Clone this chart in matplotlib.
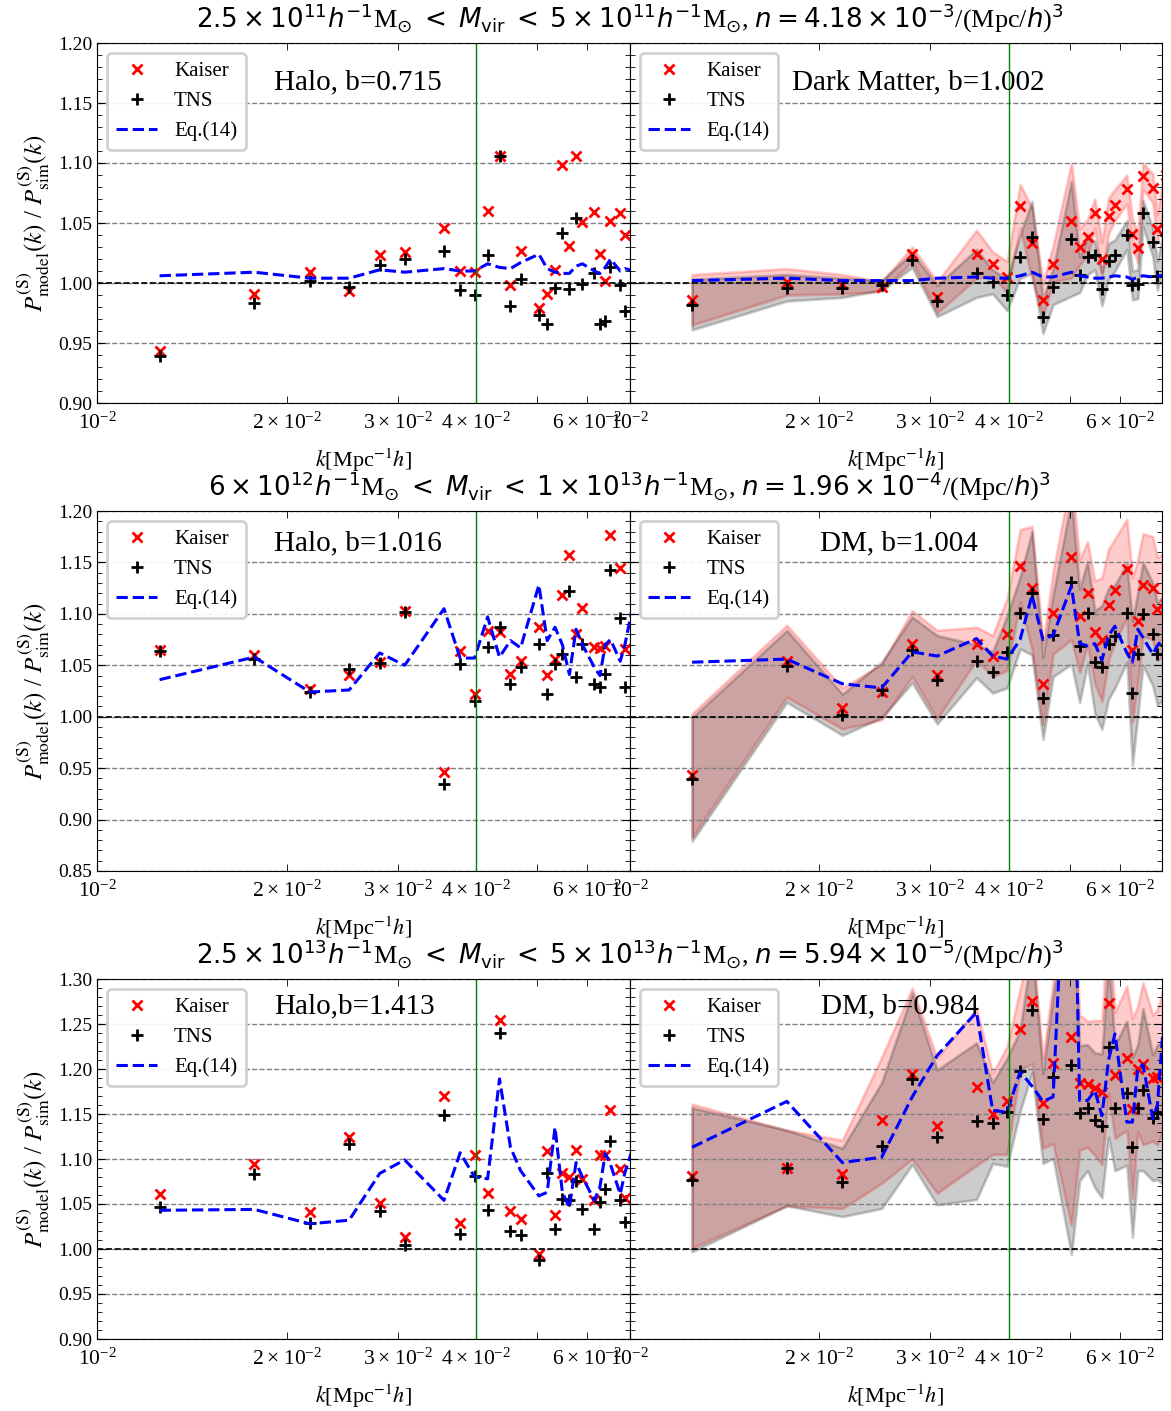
import numpy as np
import matplotlib
matplotlib.use('Agg')
import matplotlib.pyplot as plt
from matplotlib.ticker import MultipleLocator

plt.rcParams['font.family'] = ['Liberation Serif', 'DejaVu Sans']
plt.rcParams['mathtext.fontset'] = 'dejavusans'

nan = np.nan

# k bins [h/Mpc]
k = [0.01257, 0.01777, 0.02177, 0.02513, 0.0281, 0.03078, 0.03554, 0.0377, 0.03974,
     0.04168, 0.04353, 0.04531, 0.04702, 0.05027, 0.05181, 0.05332, 0.05477, 0.0562,
     0.05758, 0.05894, 0.06156, 0.06283, 0.06407, 0.0653, 0.06767, 0.06883, 0.07109]

# row 1 : 2.5e11 - 5e11
kaiser_1h = [0.943, 0.991, 1.009, 0.993, 1.023, 1.026, 1.046, 1.010, 1.009, 1.060, 1.106, 0.998, 1.027,
             0.979, 0.991, 1.011, 1.098, 1.031, 1.106, 1.051, 1.059, 1.024, 1.002, 1.052, 1.058, 1.040, nan]
tns_1h = [0.939, 0.983, 1.002, 0.997, 1.015, 1.020, 1.027, 0.994, 0.990, 1.023, 1.106, 0.981, 1.003,
          0.973, 0.966, 0.996, 1.042, 0.995, 1.054, 0.999, 1.008, 0.966, 0.968, 1.013, 0.998, 0.977, nan]
eq14_1h = [1.006, 1.009, 1.004, 1.004, 1.011, 1.009, 1.012, 1.010, 1.010, 1.016, 1.013, 1.012, 1.017,
           1.024, 1.012, 1.009, 1.008, 1.008, 1.014, 1.016, 1.010, 1.008, 1.013, 1.020, 1.010, 1.012, 1.010]

kaiser_1d = [0.986, 1.001, 0.999, 0.997, 1.024, 0.988, 1.024, 1.016, 1.005, 1.064, 1.033, 0.986, 1.016,
             1.052, 1.030, 1.038, 1.058, 1.020, 1.056, 1.065, 1.078, 1.041, 1.029, 1.089, 1.079, 1.045, 1.090]
tns_1d = [0.982, 0.996, 0.996, 0.998, 1.019, 0.985, 1.008, 1.001, 0.990, 1.022, 1.038, 0.972, 0.997,
          1.037, 1.007, 1.022, 1.023, 0.995, 1.018, 1.023, 1.040, 0.998, 0.999, 1.058, 1.034, 1.006, 1.040]
eq14_1d = [1.002, 1.004, 1.002, 1.002, 1.002, 1.004, 1.005, 1.004, 1.004, 1.006, 1.009, 1.005, 1.005,
           1.009, 1.006, 1.005, 1.004, 1.004, 1.005, 1.006, 1.005, 1.003, 1.005, 1.006, 1.005, 1.006, 1.006]
err_1d = [0.021, 0.011, 0.008, 0.004, 0.006, 0.013, 0.020, 0.010, 0.013, 0.018, 0.030, 0.014, 0.015,
          0.048, 0.015, 0.015, 0.012, 0.014, 0.015, 0.013, 0.012, 0.012, 0.012, 0.011, 0.012, 0.012, 0.015]

# row 2 : 6e12 - 1e13
kaiser_2h = [1.065, 1.060, 1.027, 1.041, 1.053, 1.103, 0.946, 1.064, 1.022, 1.083, 1.082, 1.042, 1.054,
             1.087, 1.041, 1.056, 1.118, 1.157, 1.080, 1.106, 1.068, 1.067, 1.069, 1.177, 1.145, 1.066, nan]
tns_2h = [1.064, 1.056, 1.024, 1.046, 1.052, 1.102, 0.935, 1.051, 1.015, 1.068, 1.087, 1.032, 1.048,
          1.071, 1.022, 1.051, 1.061, 1.122, 1.039, 1.071, 1.032, 1.029, 1.042, 1.143, 1.096, 1.029, nan]
eq14_2h = [1.036, 1.058, 1.024, 1.026, 1.062, 1.050, 1.105, 1.057, 1.057, 1.097, 1.058, 1.074, 1.067,
           1.128, 1.074, 1.087, 1.070, 1.041, 1.085, 1.070, 1.048, 1.040, 1.070, 1.075, 1.054, 1.070, 1.112]

kaiser_2d = [0.943, 1.054, 1.008, 1.024, 1.071, 1.041, 1.071, 1.059, 1.080, 1.147, 1.125, 1.032, 1.101,
             1.155, 1.098, 1.120, 1.082, 1.075, 1.109, 1.123, 1.144, 1.065, 1.093, 1.128, 1.125, 1.105, 1.110]
tns_2d = [0.939, 1.049, 1.002, 1.026, 1.065, 1.036, 1.054, 1.043, 1.063, 1.101, 1.120, 1.018, 1.079,
          1.131, 1.069, 1.101, 1.053, 1.048, 1.071, 1.078, 1.101, 1.023, 1.061, 1.100, 1.080, 1.061, 1.070]
eq14_2d = [1.053, 1.056, 1.032, 1.028, 1.063, 1.059, 1.076, 1.059, 1.056, 1.075, 1.118, 1.075, 1.079,
           1.127, 1.071, 1.069, 1.071, 1.055, 1.079, 1.088, 1.062, 1.053, 1.085, 1.077, 1.061, 1.069, 1.080]
err_2d = [0.060, 0.035, 0.020, 0.027, 0.032, 0.043, 0.016, 0.020, 0.035, 0.035, 0.060, 0.040, 0.040,
          0.080, 0.055, 0.050, 0.050, 0.060, 0.054, 0.050, 0.048, 0.070, 0.060, 0.050, 0.050, 0.050, 0.050]

# row 3 : 2.5e13 - 5e13
kaiser_3h = [1.061, 1.094, 1.041, 1.125, 1.051, 1.013, 1.170, 1.029, 1.105, 1.062, 1.255, 1.042, 1.033,
             0.995, 1.109, 1.038, 1.084, 1.080, 1.110, 1.078, 1.054, 1.105, 1.105, 1.155, 1.089, 1.057, nan]
tns_3h = [1.047, 1.083, 1.029, 1.117, 1.042, 1.005, 1.149, 1.017, 1.081, 1.043, 1.240, 1.020, 1.016,
          0.988, 1.085, 1.022, 1.056, 1.054, 1.076, 1.044, 1.022, 1.052, 1.067, 1.120, 1.055, 1.030, nan]
eq14_3h = [1.043, 1.044, 1.028, 1.032, 1.084, 1.099, 1.054, 1.107, 1.080, 1.078, 1.189, 1.113, 1.087,
           1.059, 1.063, 1.135, 1.063, 1.046, 1.096, 1.080, 1.054, 1.069, 1.106, 1.094, 1.061, 1.085, 1.115]

kaiser_3d = [1.081, 1.090, 1.083, 1.143, 1.195, 1.137, 1.180, 1.150, 1.165, 1.244, 1.276, 1.162, 1.207,
             1.236, 1.185, 1.183, 1.179, 1.174, 1.273, 1.193, 1.212, 1.156, 1.200, 1.206, 1.190, 1.191, 1.220]
tns_3d = [1.077, 1.090, 1.074, 1.115, 1.189, 1.124, 1.142, 1.140, 1.152, 1.198, 1.266, 1.145, 1.191,
          1.204, 1.151, 1.157, 1.143, 1.137, 1.224, 1.157, 1.173, 1.113, 1.157, 1.177, 1.146, 1.152, 1.150]
eq14_3d = [1.113, 1.164, 1.096, 1.102, 1.169, 1.215, 1.263, 1.154, 1.152, 1.197, 1.181, 1.164, 1.169,
           1.600, 1.165, 1.165, 1.176, 1.148, 1.210, 1.239, 1.141, 1.141, 1.200, 1.205, 1.145, 1.160, 1.290]
err_3d = [0.080, 0.042, 0.038, 0.070, 0.095, 0.075, 0.087, 0.045, 0.060, 0.045, 0.070, 0.050, 0.090,
          0.210, 0.075, 0.070, 0.075, 0.080, 0.100, 0.070, 0.080, 0.100, 0.070, 0.090, 0.070, 0.075, 0.080]

titles = [
    r'$2.5\times10^{11}h^{-1}$M$_{\odot}$ $<$ $M_{\rm vir}$ $<$ $5\times10^{11}h^{-1}$M$_{\odot}$, '
    r'$n=4.18\times10^{-3}$/(Mpc/$h$)$^3$',
    r'$6\times10^{12}h^{-1}$M$_{\odot}$ $<$ $M_{\rm vir}$ $<$ $1\times10^{13}h^{-1}$M$_{\odot}$, '
    r'$n=1.96\times10^{-4}$/(Mpc/$h$)$^3$',
    r'$2.5\times10^{13}h^{-1}$M$_{\odot}$ $<$ $M_{\rm vir}$ $<$ $5\times10^{13}h^{-1}$M$_{\odot}$, '
    r'$n=5.94\times10^{-5}$/(Mpc/$h$)$^3$',
]
halo_labels = ['Halo, b=0.715', 'Halo, b=1.016', 'Halo,b=1.413']
dm_labels = ['Dark Matter, b=1.002', 'DM, b=1.004', 'DM, b=0.984']
ylims = [(0.90, 1.20), (0.85, 1.20), (0.90, 1.30)]
label_y = [0.89, 0.91, 0.925]
dm_label_x = [0.305, 0.357, 0.36]

halo_data = [(kaiser_1h, tns_1h, eq14_1h), (kaiser_2h, tns_2h, eq14_2h), (kaiser_3h, tns_3h, eq14_3h)]
dm_data = [(kaiser_1d, tns_1d, eq14_1d, err_1d), (kaiser_2d, tns_2d, eq14_2d, err_2d),
           (kaiser_3d, tns_3d, eq14_3d, err_3d)]

W, H = 1171, 1411
fig = plt.figure(figsize=(W / 100, H / 100), dpi=100)

def px_axes(x0, y0, x1, y1):
    return fig.add_axes([x0 / W, 1 - y1 / H, (x1 - x0) / W, (y1 - y0) / H])

def draw(ax, kaiser, tns, eq14, err, ylim, text, tx, ty, left):
    kk = np.array(k)
    K = np.array(kaiser)
    T = np.array(tns)
    if err is not None:
        e = np.array(err)
        ax.fill_between(kk, K - e, K + e, color='red', alpha=0.2, lw=2)
        ax.fill_between(kk, T - e, T + e, color='k', alpha=0.2, lw=2)
    ax.plot(kk, K, 'x', color='red', ms=7.5, mew=2, label='Kaiser')
    ax.plot(kk, T, '+', color='k', ms=8, mew=2, label='TNS')
    ax.plot(kk, eq14, '--', color='b', lw=2.2, label='Eq.(14)')
    ax.axhline(1.0, color='k', ls='--', lw=1.2)
    ax.axvline(0.04, color='green', lw=1)
    ax.set_xscale('log')
    ax.set_xlim(0.01, 0.07)
    ax.set_ylim(*ylim)
    ax.yaxis.set_major_locator(MultipleLocator(0.05))
    ax.yaxis.set_minor_locator(MultipleLocator(0.01))
    ax.grid(axis='y', which='major', ls='--', color='gray', lw=1)
    ax.tick_params(which='both', direction='in', top=True, right=True)
    ax.tick_params(axis='y', which='major', length=6, labelsize=14)
    ax.tick_params(axis='y', which='minor', length=3.5)
    ax.tick_params(axis='x', which='both', length=5, labelsize=15.5, pad=7)
    if not left:
        ax.tick_params(labelleft=False)
    ax.set_xlabel(r'$k$[Mpc$^{-1}h$]', fontsize=16, labelpad=9, math_fontfamily='stix')
    if left:
        ax.set_ylabel(r'$P^{\rm (S)}_{\rm model}(k)$ / $P^{\rm (S)}_{\rm sim}(k)$', fontsize=18,
                      math_fontfamily='stix', labelpad=4)
    leg = ax.legend(loc='upper left', fontsize=15, framealpha=0.9)
    leg.get_frame().set_linewidth(2)
    ax.text(tx, ty, text, transform=ax.transAxes, fontsize=21, va='center')

row_px = [(43, 403), (511, 871), (979, 1339)]
x_l, x_m, x_r = 97, 629.5, 1162

for i, (y0, y1) in enumerate(row_px):
    axl = px_axes(x_l, y0, x_m, y1)
    axr = px_axes(x_m, y0, x_r, y1)
    K, T, E = halo_data[i]
    draw(axl, K, T, E, None, ylims[i], halo_labels[i], 0.333, label_y[i], True)
    K, T, E, err = dm_data[i]
    draw(axr, K, T, E, err, ylims[i], dm_labels[i], dm_label_x[i], label_y[i], False)
    fig.text((x_l + x_r) / 2 / W, 1 - (y0 - 15) / H, titles[i], ha='center', va='baseline', fontsize=18.8)

fig.savefig('out.png', dpi=100)
